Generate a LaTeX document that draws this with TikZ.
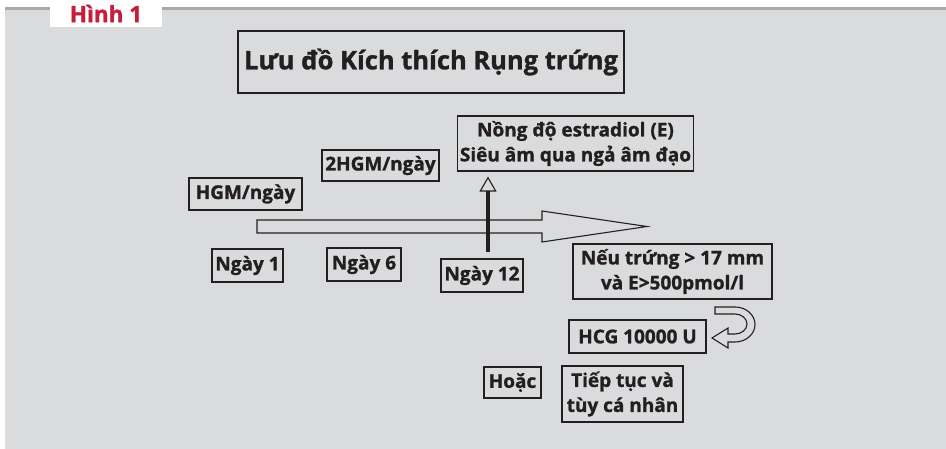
\documentclass[tikz,border=0pt]{standalone}
\usepackage{fontspec}
\setmainfont{Open Sans}[BoldFeatures={FakeBold=1.2}]
\usetikzlibrary{positioning,arrows.meta,calc}
\definecolor{bggrey}{RGB}{218,219,221}
\definecolor{rulegrey}{RGB}{167,169,172}
\definecolor{figred}{RGB}{196,30,58}
\definecolor{ink}{RGB}{35,31,32}
\tikzset{
  box/.style={draw=ink, line width=1.1pt, inner sep=2pt, align=center, text=ink,
    font=\bfseries\fontsize{19}{25}\selectfont},
  hollow/.style={draw=ink, line width=1.1pt, fill=bggrey, line join=miter},
}

\begin{document}
\begin{tikzpicture}[x=1pt,y=-1pt]
\useasboundingbox (0,0) rectangle (946,449);
% panel and tab
\fill[bggrey] (5,10) rectangle (946,449);
\fill[rulegrey] (5,7) rectangle (946,10);
\node[fill=white, minimum width=112pt, minimum height=27pt, text=figred,
  font=\bfseries\fontsize{22.5}{24}\selectfont] (tab) at (106,13.5) {Hình 1};
% title
\node[box, minimum width=386pt, minimum height=62pt,
  font=\bfseries\fontsize{25.5}{30}\selectfont] (title) at (431,62) {Lưu đồ Kích thích Rụng trứng};
% doses and days
\node[box, minimum width=233pt, minimum height=55pt] (est) at (575.5,143.5)
  {Nồng độ estradiol (E)\\Siêu âm qua ngả âm đạo};
\node[box, minimum width=117pt, minimum height=31pt] (hgm2) at (380.5,165.5) {2HGM/ngày};
\node[box, minimum width=113pt, minimum height=32pt] (hgm1) at (245.5,194) {HGM/ngày};
\node[box, minimum width=71pt, minimum height=33pt] (d1) at (247.5,265.5) {Ngày 1};
\node[box, minimum width=74pt, minimum height=33pt] (d6) at (364,264.5) {Ngày 6};
\node[box, minimum width=82pt, minimum height=33pt] (d12) at (482,275.5) {Ngày 12};
% outcome
\node[box, minimum width=199pt, minimum height=55pt] (cond) at (672.5,271.5)
  {Nếu trứng > 17 mm\\và E>500pmol/l};
\node[box, minimum width=137pt, minimum height=33pt] (hcg) at (637.5,336.5) {HCG 10000 U};
\node[box, minimum width=57pt, minimum height=31pt] (either) at (512.5,382.5) {Hoặc};
\node[box, minimum width=121pt, minimum height=56pt] (cont) at (622.5,394)
  {Tiếp tục và\\tùy cá nhân};
% time arrow
\draw[hollow] (257,220) -- (542,220) -- (542,211) -- (647,226.5) -- (542,242)
  -- (542,233) -- (257,233) -- cycle;
% day 12 check
\draw[ink, line width=4.5pt, -{Triangle[open, length=15pt, width=17pt, line width=1.1pt]}]
  ([xshift=6pt,yshift=6pt]d12.north) -- ([xshift=-87.5pt,yshift=-5pt]est.south);
% turn arrow
\draw[hollow] (715,307) -- (735,307)
  arc[start angle=90, end angle=-90, x radius=20pt, y radius=17.5pt]
  -- (728,342) -- (728,348) -- (712,338) -- (728,328) -- (728,334) -- (735,334)
  arc[start angle=-90, end angle=90, x radius=12pt, y radius=10pt]
  -- (715,314) -- cycle;
\end{tikzpicture}
\end{document}
